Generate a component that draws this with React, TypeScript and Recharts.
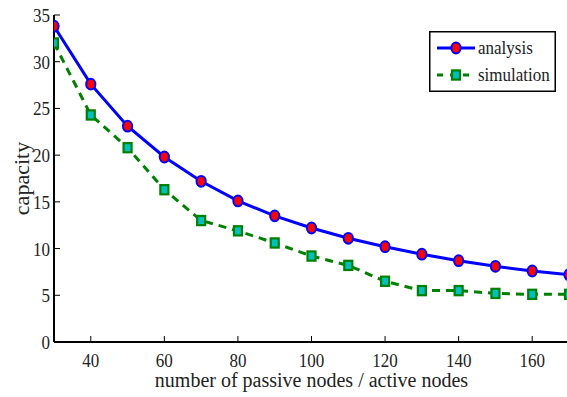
import React from 'react';
import { LineChart, Line, XAxis, YAxis, Legend, Label } from 'recharts';

const ratios = [30, 40, 50, 60, 70, 80, 90, 100, 110, 120, 130, 140, 150, 160, 170];
const analysis = [33.8, 27.6, 23.1, 19.8, 17.2, 15.1, 13.5, 12.2, 11.1, 10.2, 9.4, 8.7, 8.1, 7.6, 7.2];
const simulation = [32.0, 24.3, 20.8, 16.3, 13.0, 11.9, 10.6, 9.2, 8.2, 6.5, 5.5, 5.5, 5.2, 5.1, 5.1];
const xTicks = [40, 60, 80, 100, 120, 140, 160];
const yTicks = [0, 5, 10, 15, 20, 25, 30, 35];

const data = ratios.map((r, i) => ({ r, analysis: analysis[i], simulation: simulation[i] }));

const FONT = '"Liberation Serif", "Times New Roman", serif';
const BLUE = '#0000ff';
const RED = '#ff0000';
const GREEN = '#008000';
const CYAN = '#00bfbf';
const TICK = 6;
const txt = { fontFamily: FONT, fontSize: 17, fill: '#222' };

// the source figure is a little stretched vertically
const Stretched = ({ x, y, anchor, children, size }: any) => (
    <text
        transform={`translate(${x},${y}) scale(1,1.16)`}
        textAnchor={anchor}
        style={{ ...txt, fontSize: size ?? 17 }}
    >
        {children}
    </text>
);

const CircleDot = (props: any) => {
    const { cx, cy } = props;
    if (cx == null || cy == null) return null;
    return <ellipse cx={cx} cy={cy} rx={4.6} ry={5.4} fill={RED} stroke={BLUE} strokeWidth={2} />;
};

const SquareDot = (props: any) => {
    const { cx, cy } = props;
    if (cx == null || cy == null) return null;
    return <rect x={cx - 4} y={cy - 4.6} width={8} height={9.2} fill={CYAN} stroke={GREEN} strokeWidth={2.2} />;
};

const BottomTick = ({ x, y, payload }: any) => (
    <g>
        <line x1={x} y1={y} x2={x} y2={y - TICK} stroke="#000" strokeWidth={1} />
        <Stretched x={x} y={y + 25} anchor="middle">{payload.value}</Stretched>
    </g>
);

const TopTick = ({ x, y }: any) => (
    <line x1={x} y1={y} x2={x} y2={y + TICK} stroke="#000" strokeWidth={1} />
);

const LeftTick = ({ x, y, payload }: any) => (
    <g>
        <line x1={x} y1={y} x2={x + TICK} y2={y} stroke="#000" strokeWidth={1} />
        <Stretched x={x - 4} y={y + 7} anchor="end">{payload.value}</Stretched>
    </g>
);

const RightTick = ({ x, y }: any) => (
    <line x1={x} y1={y} x2={x - TICK} y2={y} stroke="#000" strokeWidth={1} />
);

const LegendBox = () => (
    <svg width={127} height={61} style={{ display: 'block' }}>
        <rect x={0.75} y={0.75} width={125.5} height={59.5} fill="#fff" stroke="#000" strokeWidth={1.5} />
        <line x1={8} y1={17} x2={46} y2={17} stroke={BLUE} strokeWidth={3} />
        <ellipse cx={27} cy={17} rx={4.6} ry={5.4} fill={RED} stroke={BLUE} strokeWidth={2} />
        <Stretched x={49} y={23}>analysis</Stretched>
        <line x1={8} y1={44} x2={46} y2={44} stroke={GREEN} strokeWidth={3} strokeDasharray="6 7" />
        <rect x={23} y={39.4} width={8} height={9.2} fill={CYAN} stroke={GREEN} strokeWidth={2.2} />
        <Stretched x={49} y={50}>simulation</Stretched>
    </svg>
);

export default function App() {
    return (
        <div style={{ position: 'absolute', left: 0, top: 0, width: 567, height: 397, overflow: 'hidden', background: '#fff' }}>
            <LineChart width={575} height={397} data={data} margin={{ top: 15, right: 6, bottom: 0, left: 0 }}>
                <XAxis
                    dataKey="r"
                    type="number"
                    domain={[30, 170]}
                    ticks={xTicks}
                    allowDataOverflow
                    height={55}
                    stroke="#000"
                    strokeWidth={2}
                    tickSize={0}
                    tickMargin={0}
                    tickLine={false}
                    tick={<BottomTick />}
                >
                    <Label value="number of passive nodes / active nodes" position="insideBottom" offset={10}
                        style={{ fontFamily: FONT, fontSize: 20, fill: '#222' }} />
                </XAxis>
                <XAxis
                    xAxisId="top"
                    orientation="top"
                    dataKey="r"
                    type="number"
                    domain={[30, 170]}
                    ticks={xTicks}
                    allowDataOverflow
                    height={0}
                    stroke="#000"
                    strokeWidth={2}
                    tickSize={0}
                    tickMargin={0}
                    tickLine={false}
                    tick={<TopTick />}
                />
                <YAxis
                    type="number"
                    domain={[0, 35]}
                    ticks={yTicks}
                    allowDataOverflow
                    width={54}
                    stroke="#000"
                    strokeWidth={2}
                    tickSize={0}
                    tickMargin={0}
                    tickLine={false}
                    tick={<LeftTick />}
                >
                    <Label value="capacity" angle={-90} position="center" dx={-6}
                        style={{ fontFamily: FONT, fontSize: 22, fill: '#222' }} />
                </YAxis>
                <YAxis
                    yAxisId="right"
                    orientation="right"
                    type="number"
                    domain={[0, 35]}
                    ticks={yTicks}
                    allowDataOverflow
                    width={0}
                    stroke="#000"
                    strokeWidth={2}
                    tickSize={0}
                    tickMargin={0}
                    tickLine={false}
                    tick={<RightTick />}
                />
                <Legend
                    layout="horizontal"
                    verticalAlign="middle"
                    align="center"
                    content={<LegendBox />}
                    wrapperStyle={{ position: 'absolute', left: 429, top: 31, width: 127, height: 61 }}
                />
                <Line
                    dataKey="analysis"
                    stroke={BLUE}
                    strokeWidth={3}
                    dot={<CircleDot />}
                    activeDot={false}
                    isAnimationActive={false}
                />
                <Line
                    dataKey="simulation"
                    stroke={GREEN}
                    strokeWidth={3}
                    strokeDasharray="8 6"
                    dot={<SquareDot />}
                    activeDot={false}
                    isAnimationActive={false}
                />
            </LineChart>
        </div>
    );
}
